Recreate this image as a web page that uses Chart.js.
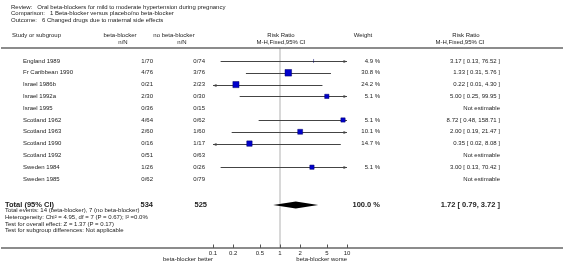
<!DOCTYPE html>
<html>
<head>
<meta charset="utf-8">
<script src="https://cdn.jsdelivr.net/npm/chart.js@4"></script>
<style>
  body { margin: 0; background: #fff; }
  #wrap { width: 566px; height: 265px; position: relative; }
</style>
</head>
<body>
<div id="wrap"><canvas id="forest"></canvas></div>
<script>
// Study data
const studies = ['England 1989', 'Fr Caribbean 1990', 'Israel 1986b', 'Israel 1992a', 'Israel 1995',
    'Scotland 1962', 'Scotland 1963', 'Scotland 1990', 'Scotland 1992', 'Sweden 1984', 'Sweden 1985'];
const betaBlocker = ['1/70', '4/76', '0/21', '2/30', '0/36', '4/64', '2/60', '0/16', '0/51', '1/26', '0/62'];
const noBetaBlocker = ['0/74', '3/76', '2/23', '0/30', '0/15', '0/62', '1/60', '1/17', '0/63', '0/26', '0/79'];
const weights = [4.9, 30.8, 24.2, 5.1, null, 5.1, 10.1, 14.7, null, 5.1, null];
const riskRatio = [3.17, 1.33, 0.22, 5.00, null, 8.72, 2.00, 0.35, null, 3.00, null];
const ciLow = [0.13, 0.31, 0.01, 0.25, null, 0.48, 0.19, 0.02, null, 0.13, null];
const ciHigh = [76.52, 5.76, 4.30, 99.95, null, 158.71, 21.47, 8.08, null, 70.42, null];

// Pooled result
const total = { bb: '534', nobb: '525', weight: '100.0 %', rr: 1.72, lo: 0.79, hi: 3.72 };
const axisTicks = [0.1, 0.2, 0.5, 1, 2, 5, 10];

const titleLines = [
    'Review:   Oral beta-blockers for mild to moderate hypertension during pregnancy',
    'Comparison:   1 Beta-blocker versus placebo/no beta-blocker',
    'Outcome:   6 Changed drugs due to maternal side effects'
];
const footLines = [
    'Total events: 14 (beta-blocker), 7 (no beta-blocker)',
    'Heterogeneity: Chi\u00b2 = 4.95, df = 7 (P = 0.67); I\u00b2 =0.0%',
    'Test for overall effect: Z = 1.37 (P = 0.17)',
    'Test for subgroup differences: Not applicable'
];

const TOTAL_ROW = 12.2;
const FONT = '"Liberation Sans", Arial, sans-serif';

function fmt(v) { return v.toFixed(2); }

function squareRadius(w) {
    return (2.7 + 0.7 * Math.sqrt(w)) / Math.SQRT2;
}

function arrowHead(ctx, x, y, dir) {
    ctx.beginPath();
    ctx.moveTo(x, y);
    ctx.lineTo(x - dir * 3.5, y - 1.6);
    ctx.lineTo(x - dir * 3.5, y + 1.6);
    ctx.closePath();
    ctx.fill();
}

const forestPlugin = {
    id: 'forest',
    beforeDatasetsDraw(chart) {
        const { ctx, chartArea, scales: { x, y } } = chart;
        ctx.save();
        // line of no effect
        ctx.strokeStyle = '#d8d8d8';
        ctx.lineWidth = 2;
        const x1 = x.getPixelForValue(1);
        ctx.beginPath();
        ctx.moveTo(x1, chartArea.top);
        ctx.lineTo(x1, chartArea.bottom);
        ctx.stroke();

        // confidence intervals
        ctx.strokeStyle = '#444';
        ctx.fillStyle = '#444';
        ctx.lineWidth = 1;
        studies.forEach((s, i) => {
            if (riskRatio[i] == null) return;
            const py = Math.round(y.getPixelForValue(i)) + 0.5;
            const lo = Math.max(ciLow[i], x.min);
            const hi = Math.min(ciHigh[i], x.max);
            const pl = x.getPixelForValue(lo);
            const ph = x.getPixelForValue(hi);
            ctx.beginPath();
            ctx.moveTo(pl, py);
            ctx.lineTo(ph, py);
            ctx.stroke();
            if (ciLow[i] < x.min) arrowHead(ctx, pl, py, -1);
            if (ciHigh[i] > x.max) arrowHead(ctx, ph, py, 1);
        });

        // pooled diamond
        const ty = y.getPixelForValue(TOTAL_ROW);
        ctx.fillStyle = '#000';
        ctx.beginPath();
        ctx.moveTo(x.getPixelForValue(total.lo), ty);
        ctx.lineTo(x.getPixelForValue(total.rr), ty - 3.5);
        ctx.lineTo(x.getPixelForValue(total.hi), ty);
        ctx.lineTo(x.getPixelForValue(total.rr), ty + 3.5);
        ctx.closePath();
        ctx.fill();
        ctx.restore();
    },
    afterDraw(chart) {
        const { ctx, chartArea, scales: { x, y } } = chart;
        ctx.save();
        ctx.fillStyle = '#222';
        ctx.textBaseline = 'middle';
        ctx.font = '6px ' + FONT;

        // titles
        ctx.textAlign = 'left';
        titleLines.forEach((t, i) => ctx.fillText(t, 11, 7 + i * 6.7));

        // column headers
        ctx.fillText('Study or subgroup', 12, 35);
        ctx.textAlign = 'center';
        ctx.fillText('beta-blocker', 120, 35);
        ctx.fillText('n/N', 123, 42);
        ctx.fillText('no beta-blocker', 174, 35);
        ctx.fillText('n/N', 182, 42);
        ctx.fillText('Risk Ratio', 281, 35);
        ctx.fillText('M-H,Fixed,95% CI', 281, 42);
        ctx.fillText('Weight', 363, 35);
        ctx.fillText('Risk Ratio', 466, 35);
        ctx.fillText('M-H,Fixed,95% CI', 460, 42);

        // study rows
        studies.forEach((s, i) => {
            const py = y.getPixelForValue(i);
            ctx.textAlign = 'left';
            ctx.fillText(s, 23, py);
            ctx.textAlign = 'right';
            ctx.fillText(betaBlocker[i], 153, py);
            ctx.fillText(noBetaBlocker[i], 205, py);
            if (weights[i] != null) ctx.fillText(weights[i].toFixed(1) + ' %', 380, py);
            const txt = riskRatio[i] == null ? 'Not estimable'
                : fmt(riskRatio[i]) + ' [ ' + fmt(ciLow[i]) + ', ' + fmt(ciHigh[i]) + ' ]';
            ctx.fillText(txt, 500, py);
        });

        // total row
        const ty = y.getPixelForValue(TOTAL_ROW);
        ctx.font = 'bold 7.5px ' + FONT;
        ctx.textAlign = 'left';
        ctx.fillText('Total (95% CI)', 5, ty);
        ctx.textAlign = 'right';
        ctx.fillText(total.bb, 153, ty);
        ctx.fillText(total.nobb, 207, ty);
        ctx.fillText(total.weight, 380, ty);
        ctx.fillText(fmt(total.rr) + ' [ ' + fmt(total.lo) + ', ' + fmt(total.hi) + ' ]', 500, ty);

        ctx.font = '6px ' + FONT;
        ctx.textAlign = 'left';
        footLines.forEach((t, i) => ctx.fillText(t, 5, ty + 5.5 + i * 6.8));

        // rules
        ctx.strokeStyle = '#666';
        ctx.lineWidth = 1.5;
        [48, 248].forEach(ry => {
            ctx.beginPath();
            ctx.moveTo(1, ry);
            ctx.lineTo(563, ry);
            ctx.stroke();
        });

        // axis ticks, pointing up
        ctx.strokeStyle = '#555';
        ctx.lineWidth = 1;
        axisTicks.forEach(t => {
            const px = Math.round(x.getPixelForValue(t)) + 0.5;
            ctx.beginPath();
            ctx.moveTo(px, chartArea.bottom - 3.5);
            ctx.lineTo(px, chartArea.bottom);
            ctx.stroke();
        });

        ctx.textAlign = 'right';
        ctx.fillText('beta-blocker better', x.getPixelForValue(0.1), 259.5);
        ctx.fillText('beta-blocker worse', x.getPixelForValue(10), 259.5);
        ctx.restore();
    }
};

const points = [];
studies.forEach((s, i) => {
    if (riskRatio[i] != null) points.push({ x: riskRatio[i], y: i, w: weights[i] });
});

new Chart(document.getElementById('forest'), {
    type: 'scatter',
    data: {
        datasets: [{
            data: points,
            backgroundColor: '#0000cc',
            borderColor: '#000066',
            borderWidth: 0.5,
            pointStyle: ctx => (ctx.raw && ctx.raw.w < 5 ? 'line' : 'rect'),
            rotation: ctx => (ctx.raw && ctx.raw.w < 5 ? 90 : 0),
            pointRadius: ctx => (ctx.raw ? (ctx.raw.w < 5 ? 2 : squareRadius(ctx.raw.w)) : 2)
        }]
    },
    options: {
        responsive: true,
        maintainAspectRatio: false,
        animation: false,
        layout: { padding: { left: 213, right: 219, top: 48, bottom: 3 } },
        scales: {
            x: {
                type: 'logarithmic',
                min: 0.1,
                max: 10,
                afterBuildTicks: scale => { scale.ticks = axisTicks.map(v => ({ value: v })); },
                afterFit: scale => { scale.height = 14; },
                grid: { display: false, drawTicks: false },
                border: { display: false },
                ticks: {
                    padding: 2,
                    maxRotation: 0,
                    autoSkip: false,
                    color: '#222',
                    font: { family: FONT, size: 6 },
                    callback: v => String(v)
                }
            },
            y: {
                display: false,
                reverse: true,
                min: -1.1,
                max: 15.85
            }
        },
        plugins: {
            legend: { display: false },
            tooltip: { enabled: false }
        }
    },
    plugins: [forestPlugin]
});
</script>
</body>
</html>
